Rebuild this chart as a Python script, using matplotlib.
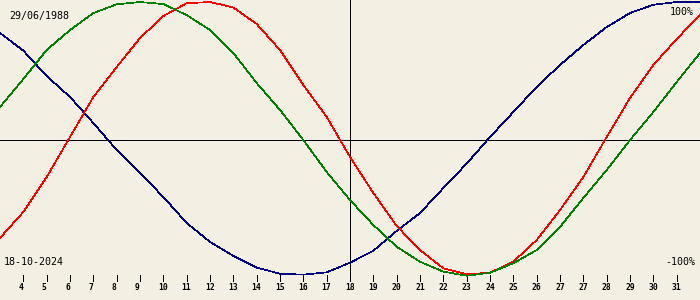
import matplotlib
matplotlib.use("Agg")
import matplotlib.pyplot as plt

# ---- data ----
tick_labels = ["4", "5", "6", "7", "8", "9", "10", "11", "12", "13", "14", "15", "16",
               "17", "18", "19", "20", "21", "22", "23", "24", "25", "26", "27", "27",
               "28", "29", "30", "31"]
birth_label = "29/06/1988"
today_label = "18-10-2024"
today_index = 15  # position of the vertical "today" line (label 18)

# values (percent) at each tick position 0..30
blue = [77.5, 64.6, 46.2, 30.9, 12.0, -7.6, -24.4, -41.8, -60.7, -74.5, -84.7,
        -93.2, -97.6, -98.3, -96.6, -89.6, -80.9, -66.5, -53.5, -35.3, -17.5,
        1.8, 20.0, 38.2, 54.2, 68.7, 81.8, 92.0, 98.0, 100.0, 100.0]
red = [-71.6, -52.7, -27.3, 1.8, 30.9, 52.7, 73.8, 89.8, 99.1, 100.0, 96.0,
       84.0, 65.1, 39.6, 16.4, -12.7, -38.9, -62.9, -80.4, -93.7, -98.0,
       -96.9, -88.9, -73.1, -51.3, -27.3, 1.8, 30.2, 54.2, 73.1, 90.5]
green = [23.6, 44.0, 65.1, 79.6, 92.0, 98.3, 100.0, 98.5, 90.5, 79.6, 62.9,
         41.1, 21.5, -0.4, -23.6, -44.0, -62.2, -78.0, -88.9, -96.1, -99.1,
         -96.9, -90.0, -80.4, -63.6, -42.5, -22.2, -0.4, 20.0, 41.8, 62.9]

# ---- drawing ----
W, H = 700, 300
BG = "#f3efe3"
PX = 0.72  # one pixel in points at 100 dpi

fig = plt.figure(figsize=(W / 100, H / 100), dpi=100, facecolor=BG)
ax = fig.add_axes([0, 0, 1, 1], facecolor=BG)

def pix_to_v(ypix):
    return (139.5 - ypix) / 1.375

ax.set_xlim(0, 30)
ax.set_ylim(pix_to_v(H), pix_to_v(0))
ax.axis("off")

xs = list(range(len(blue)))
for ys, col in ((blue, "#000080"), (red, "#ff0000"), (green, "#008000")):
    ax.plot(xs, ys, color=col, lw=0.5, antialiased=False, zorder=3,
            solid_joinstyle="miter")

# centre line and today line
ax.axhline(0, color="black", lw=PX, antialiased=False, zorder=2)
ax.vlines(today_index, pix_to_v(281), pix_to_v(0), color="black", lw=PX,
          antialiased=False, zorder=2)

# ticks and labels
tick_pos = list(range(1, len(tick_labels) + 1))
ax.vlines(tick_pos, pix_to_v(281), pix_to_v(275), color="black", lw=PX,
          antialiased=False, zorder=2)
for x, lab in zip(tick_pos, tick_labels):
    ax.annotate(lab, (x, pix_to_v(288)), xytext=(-5, 0), textcoords="offset pixels",
                ha="left", va="center", fontsize=5.8, family="DejaVu Sans Mono",
                fontweight="bold", color="black")

mono = dict(family="DejaVu Sans Mono", color="black", fontsize=7.2)
ax.text(9 / W, 1 - 16.5 / H, birth_label, transform=ax.transAxes,
        ha="left", va="center", **mono)
ax.text(4 / W, 1 - 262 / H, today_label, transform=ax.transAxes,
        ha="left", va="center", **mono)
ax.text(694 / W, 1 - 12 / H, "100%", transform=ax.transAxes,
        ha="right", va="center", **mono)
ax.text(695 / W, 1 - 262 / H, "-100%", transform=ax.transAxes,
        ha="right", va="center", **mono)

fig.savefig("out.png", dpi=100, facecolor=BG)
